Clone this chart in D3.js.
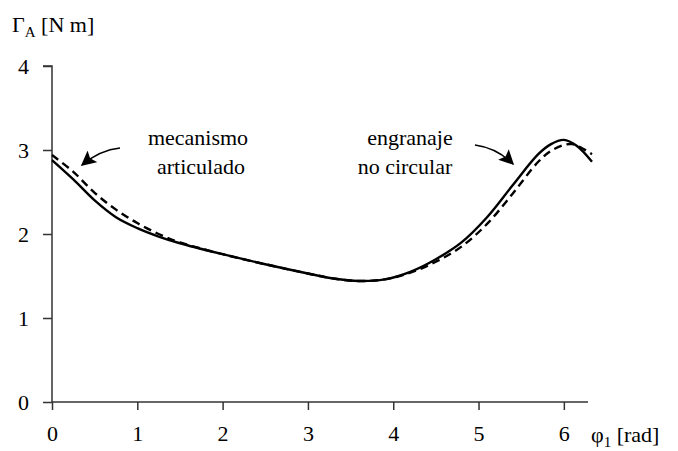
<!DOCTYPE html>
<html>
<head>
<meta charset="utf-8">
<script src="https://cdn.jsdelivr.net/npm/d3@7"></script>
<style>
  body { margin: 0; background: #fff; }
  svg text { font-family: "Liberation Serif", "Tinos", "Times New Roman", Times, "DejaVu Serif", serif !important; fill: #000; }
</style>
</head>
<body>
<script>
// angle phi1 [rad]
const phiSolid = [0, 0.25, 0.5, 0.75, 1.0, 1.25, 1.5, 2.0, 2.5, 3.0, 3.3, 3.6, 3.9, 4.2, 4.5, 4.8, 5.1, 5.4, 5.7, 5.85, 6.0, 6.15, 6.33]
// torque, mecanismo articulado (solid)
const torqueSolid = [2.88, 2.65, 2.40, 2.20, 2.07, 1.97, 1.89, 1.76, 1.64, 1.53, 1.47, 1.44, 1.46, 1.55, 1.70, 1.90, 2.20, 2.58, 2.95, 3.07, 3.12, 3.05, 2.86]

const phiDashed = [0, 0.25, 0.5, 0.75, 1.0, 1.25, 1.5, 2.0, 2.5, 3.0, 3.3, 3.6, 3.9, 4.2, 4.5, 4.8, 5.1, 5.4, 5.7, 5.85, 6.0, 6.1, 6.2, 6.33]
// torque, engranaje no circular (dashed)
const torqueDashed = [2.94, 2.74, 2.49, 2.29, 2.13, 2.00, 1.90, 1.76, 1.64, 1.53, 1.47, 1.44, 1.46, 1.54, 1.67, 1.85, 2.12, 2.48, 2.86, 2.99, 3.06, 3.07, 3.03, 2.95]

const xTicks = [0, 1, 2, 3, 4, 5, 6]
const yTicks = [0, 1, 2, 3, 4]

const w = 678
const h = 451
const fontSize = '22px'

const svg = d3.select('body').append('svg')
    .attr('width', w)
    .attr('height', h)

const xScale = d3.scaleLinear().domain([0, 2 * Math.PI]).range([52, 588])
const yScale = d3.scaleLinear().domain([0, 4]).range([402, 66])

const axisColor = '#333'

// y axis
const yAxis = d3.axisLeft(yScale).tickValues(yTicks).tickFormat(d3.format('d')).tickSize(9).tickPadding(14)
const gy = svg.append('g')
    .attr('transform', `translate(${xScale(0)}, 0)`)
    .call(yAxis)
gy.attr('font-family', null)
gy.select('.domain').attr('stroke', axisColor).attr('stroke-width', 1.5).attr('d', `M-9,${yScale(4)}H0V${yScale(0)}`)
gy.selectAll('.tick line').attr('stroke', axisColor).attr('stroke-width', 1.5)
gy.selectAll('.tick text').style('font-size', fontSize).attr('fill', '#000')

// x axis
const xAxis = d3.axisBottom(xScale).tickValues(xTicks).tickFormat(d3.format('d')).tickSize(8).tickPadding(15)
const gx = svg.append('g')
    .attr('transform', `translate(0, ${yScale(0)})`)
    .call(xAxis)
gx.attr('font-family', null)
gx.select('.domain').attr('stroke', axisColor).attr('stroke-width', 1.5).attr('d', `M${xScale(0)},0H${xScale(2 * Math.PI)}`)
gx.selectAll('.tick line').attr('stroke', axisColor).attr('stroke-width', 1.5)
gx.selectAll('.tick text').style('font-size', fontSize).attr('fill', '#000')

// axis titles
const yTitle = svg.append('text').attr('x', 12).attr('y', 32).style('font-size', fontSize)
yTitle.append('tspan').text('Γ')
yTitle.append('tspan').text('A').attr('dy', 5).style('font-size', '15px')
yTitle.append('tspan').text(' [N m]').attr('dy', -5)

const xTitle = svg.append('text').attr('x', 591).attr('y', 442).style('font-size', fontSize)
xTitle.append('tspan').text('φ')
xTitle.append('tspan').text('1').attr('dy', 5).style('font-size', '15px')
xTitle.append('tspan').text(' [rad]').attr('dy', -5)

// curves
const line = d3.line()
    .x(d => xScale(d[0]))
    .y(d => yScale(d[1]))
    .curve(d3.curveCatmullRom.alpha(0.5))

svg.append('path')
    .datum(phiDashed.map((p, i) => [p, torqueDashed[i]]))
    .attr('d', line)
    .attr('fill', 'none')
    .attr('stroke', '#000')
    .attr('stroke-width', 2.4)
    .attr('stroke-dasharray', '8,5')

svg.append('path')
    .datum(phiSolid.map((p, i) => [p, torqueSolid[i]]))
    .attr('d', line)
    .attr('fill', 'none')
    .attr('stroke', '#000')
    .attr('stroke-width', 2.4)

// annotations
const label = (x, y, t) => svg.append('text')
    .attr('x', x).attr('y', y)
    .attr('text-anchor', 'middle')
    .style('font-size', fontSize)
    .text(t)

label(198, 145, 'mecanismo')
label(201, 174, 'articulado')
label(410, 145, 'engranaje')
label(405, 174, 'no circular')

svg.append('defs').append('marker')
    .attr('id', 'head')
    .attr('viewBox', '0 0 10 10')
    .attr('refX', 9).attr('refY', 5)
    .attr('markerWidth', 15).attr('markerHeight', 15)
    .attr('markerUnits', 'userSpaceOnUse')
    .attr('orient', 'auto')
    .append('path')
    .attr('d', 'M0,0L10,5L0,10L2,5Z')
    .attr('fill', '#000')

svg.append('path')
    .attr('d', 'M120,148Q100,150,82,165')
    .attr('fill', 'none').attr('stroke', '#000').attr('stroke-width', 1.5)
    .attr('marker-end', 'url(#head)')

svg.append('path')
    .attr('d', 'M475,145Q497,148,513,164')
    .attr('fill', 'none').attr('stroke', '#000').attr('stroke-width', 1.5)
    .attr('marker-end', 'url(#head)')
</script>
</body>
</html>
